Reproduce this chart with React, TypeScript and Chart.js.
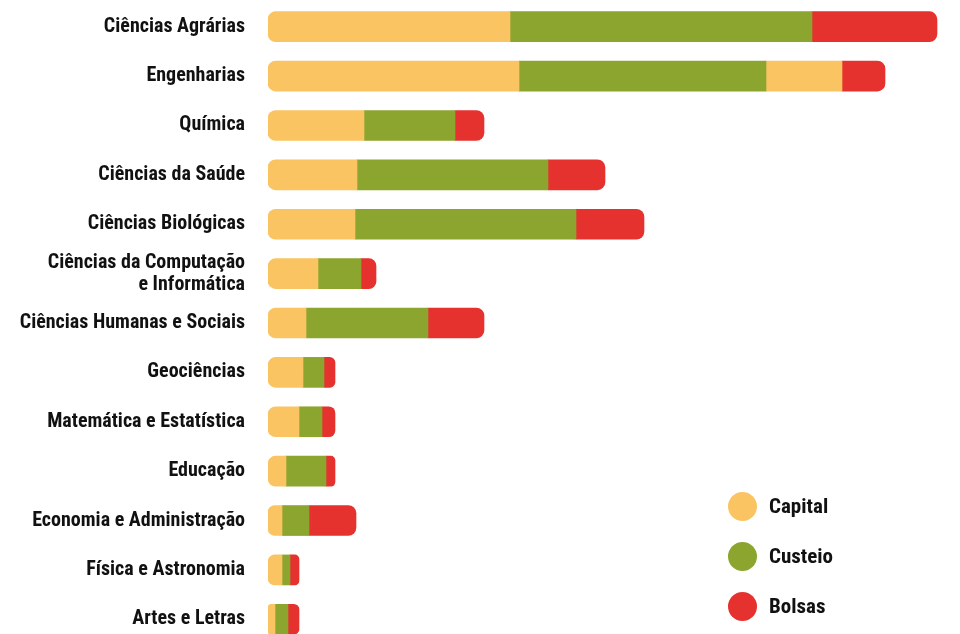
import React, { useEffect, useRef } from "react";
import { Chart, registerables } from "chart.js";

Chart.register(...registerables);

const categories: (string | string[])[] = [
  "Ciências Agrárias",
  "Engenharias",
  "Química",
  "Ciências da Saúde",
  "Ciências Biológicas",
  ["Ciências da Computação", "e Informática"],
  "Ciências Humanas e Sociais",
  "Geociências",
  "Matemática e Estatística",
  "Educação",
  "Economia e Administração",
  "Física e Astronomia",
  "Artes e Letras",
];

const capital = [242, 251, 96, 89, 87, 50, 38, 35, 31, 18, 14, 14, 7];
const custeio = [302, 247, 91, 191, 221, 43, 122, 21, 23, 40, 27, 8, 13];
const capitalExtra = [0, 76, 0, 0, 0, 0, 0, 0, 0, 0, 0, 0, 0];
const bolsas = [125, 43, 29, 57, 68, 15, 56, 11, 13, 9, 47, 9, 11];

const seriesNames = ["Capital", "Custeio", "Capital", "Bolsas"];
const seriesColors = ["#FBC463", "#8BA52F", "#FBC463", "#E5322F"];
const legendItems = [
  { name: "Capital", color: "#FBC463" },
  { name: "Custeio", color: "#8BA52F" },
  { name: "Bolsas", color: "#E5322F" },
];

const FONT = "'Roboto Condensed', 'Liberation Sans Narrow', 'DejaVu Sans Condensed', Roboto, sans-serif";

export default function App() {
  const ref = useRef<HTMLCanvasElement | null>(null);

  useEffect(() => {
    if (!ref.current) return;
    const series = [capital, custeio, capitalExtra, bolsas];
    const n = categories.length;
    const starts: number[][] = series.map(() => new Array(n).fill(0));
    for (let i = 0; i < n; i++) {
      let acc = 0;
      series.forEach((s, d) => {
        starts[d][i] = acc;
        acc += s[i];
      });
    }
    const firstIdx = categories.map((_, i) => series.findIndex((s) => s[i] > 0));
    const lastIdx = categories.map((_, i) => {
      let l = -1;
      series.forEach((s, d) => {
        if (s[i] > 0) l = d;
      });
      return l;
    });
    const R = 8;

    const chart = new Chart(ref.current, {
      type: "bar",
      data: {
        labels: categories as any,
        datasets: series.map((s, d) => ({
          label: seriesNames[d],
          data: s.map((v, i) => (v > 0 ? [starts[d][i], starts[d][i] + v] : null)) as any,
          backgroundColor: seriesColors[d],
          borderWidth: 0,
          borderSkipped: false,
          grouped: false,
          barThickness: 30,
          borderRadius: (ctx: any) => {
            const i = ctx.dataIndex;
            const l = firstIdx[i] === d ? R : 0;
            const r = lastIdx[i] === d ? R : 0;
            return { topLeft: l, bottomLeft: l, topRight: r, bottomRight: r };
          },
        })),
      },
      options: {
        indexAxis: "y",
        animation: false,
        responsive: false,
        maintainAspectRatio: false,
        layout: { padding: { top: 2, bottom: 0, left: 0, right: 0 } },
        plugins: { legend: { display: false }, tooltip: { enabled: false } },
        scales: {
          x: { display: false, min: 0, max: 692 },
          y: {
            grid: { display: false, drawTicks: false },
            border: { display: false },
            afterFit: (scale: any) => {
              scale.width = 268;
              scale.paddingTop = 0;
              scale.paddingBottom = 0;
            },
            ticks: {
              padding: 23,
              color: "#111111",
              font: { family: FONT, size: 20, weight: "bold", lineHeight: 1.1 },
            },
          },
        },
      },
    });
    return () => chart.destroy();
  }, []);

  return (
    <div style={{ position: "fixed", left: 0, top: 0, width: 960, height: 644, background: "#fff" }}>
      <canvas ref={ref} width={960} height={644} style={{ width: 960, height: 644, display: "block" }} />
      {legendItems.map((it, k) => (
        <div
          key={it.name}
          style={{
            position: "absolute",
            left: 728,
            top: 491 + k * 50,
            height: 30,
            display: "flex",
            alignItems: "center",
          }}
        >
          <span
            style={{
              width: 29,
              height: 29,
              borderRadius: "50%",
              background: it.color,
              display: "inline-block",
            }}
          />
          <span
            style={{
              marginLeft: 12,
              fontFamily: FONT,
              fontWeight: "bold",
              fontSize: 21,
              color: "#111111",
            }}
          >
            {it.name}
          </span>
        </div>
      ))}
    </div>
  );
}
